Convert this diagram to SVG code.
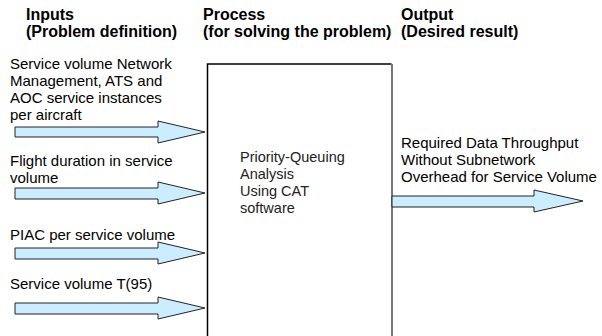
<svg xmlns="http://www.w3.org/2000/svg" width="602" height="336" viewBox="0 0 602 336">
<style>
.h{font-family:"Liberation Sans",Arial,sans-serif;font-weight:bold;font-size:16px;fill:#000}
.t{font-family:"Liberation Sans",Arial,sans-serif;font-size:15px;fill:#000}
.p{font-family:"Liberation Sans",Arial,sans-serif;font-size:14.5px;fill:#222}
.arrow{fill:#CCECFF;stroke:#222;stroke-width:1}
</style>
<rect width="602" height="336" fill="#fff"/>
<g id="headers">
<text class="h" x="26" y="20">Inputs</text>
<text class="h" x="26" y="37">(Problem definition)</text>
<text class="h" x="203" y="20">Process</text>
<text class="h" x="203" y="37">(for solving the problem)</text>
<text class="h" x="401" y="20">Output</text>
<text class="h" x="401" y="37">(Desired result)</text>
</g>
<g id="process">
<path d="M207.5,336 V64 H391.5" fill="none" stroke="#000" stroke-width="1.5"/>
<path d="M392,64 V336" fill="none" stroke="#777" stroke-width="2"/>
<text class="p" x="240" y="162">Priority-Queuing</text>
<text class="p" x="240" y="179">Analysis</text>
<text class="p" x="240" y="196">Using CAT</text>
<text class="p" x="240" y="213">software</text>
</g>
<g id="input1">
<text class="t" x="10" y="69">Service volume Network</text>
<text class="t" x="10" y="86">Management, ATS and</text>
<text class="t" x="10" y="103">AOC service instances</text>
<text class="t" x="10" y="120">per aircraft</text>
</g>
<g id="input2">
<text class="t" x="10" y="166">Flight duration in service</text>
<text class="t" x="10" y="183">volume</text>
</g>
<g id="input3">
<text class="t" x="10" y="240">PIAC per service volume</text>
</g>
<g id="input4">
<text class="t" x="10" y="289">Service volume T(95)</text>
</g>
<g id="output">
<text class="t" x="401" y="148">Required Data Throughput</text>
<text class="t" x="401" y="165">Without Subnetwork</text>
<text class="t" x="401" y="182">Overhead for Service Volume</text>
</g>
<g id="connectors">
<polygon class="arrow" points="15,127 158,127 158,121 205,132 158,143 158,137 15,137"/>
<polygon class="arrow" points="15,188 158,188 158,182 205,193 158,204 158,199 15,199"/>
<polygon class="arrow" points="15,248 158,248 158,242 205,253 158,264 158,259 15,259"/>
<polygon class="arrow" points="15,303 158,303 158,297 205,308 158,319 158,314 15,314"/>
<polygon class="arrow" points="392,196 534,196 534,190 583,201 534,212 534,207 392,207"/>
</g>
</svg>
